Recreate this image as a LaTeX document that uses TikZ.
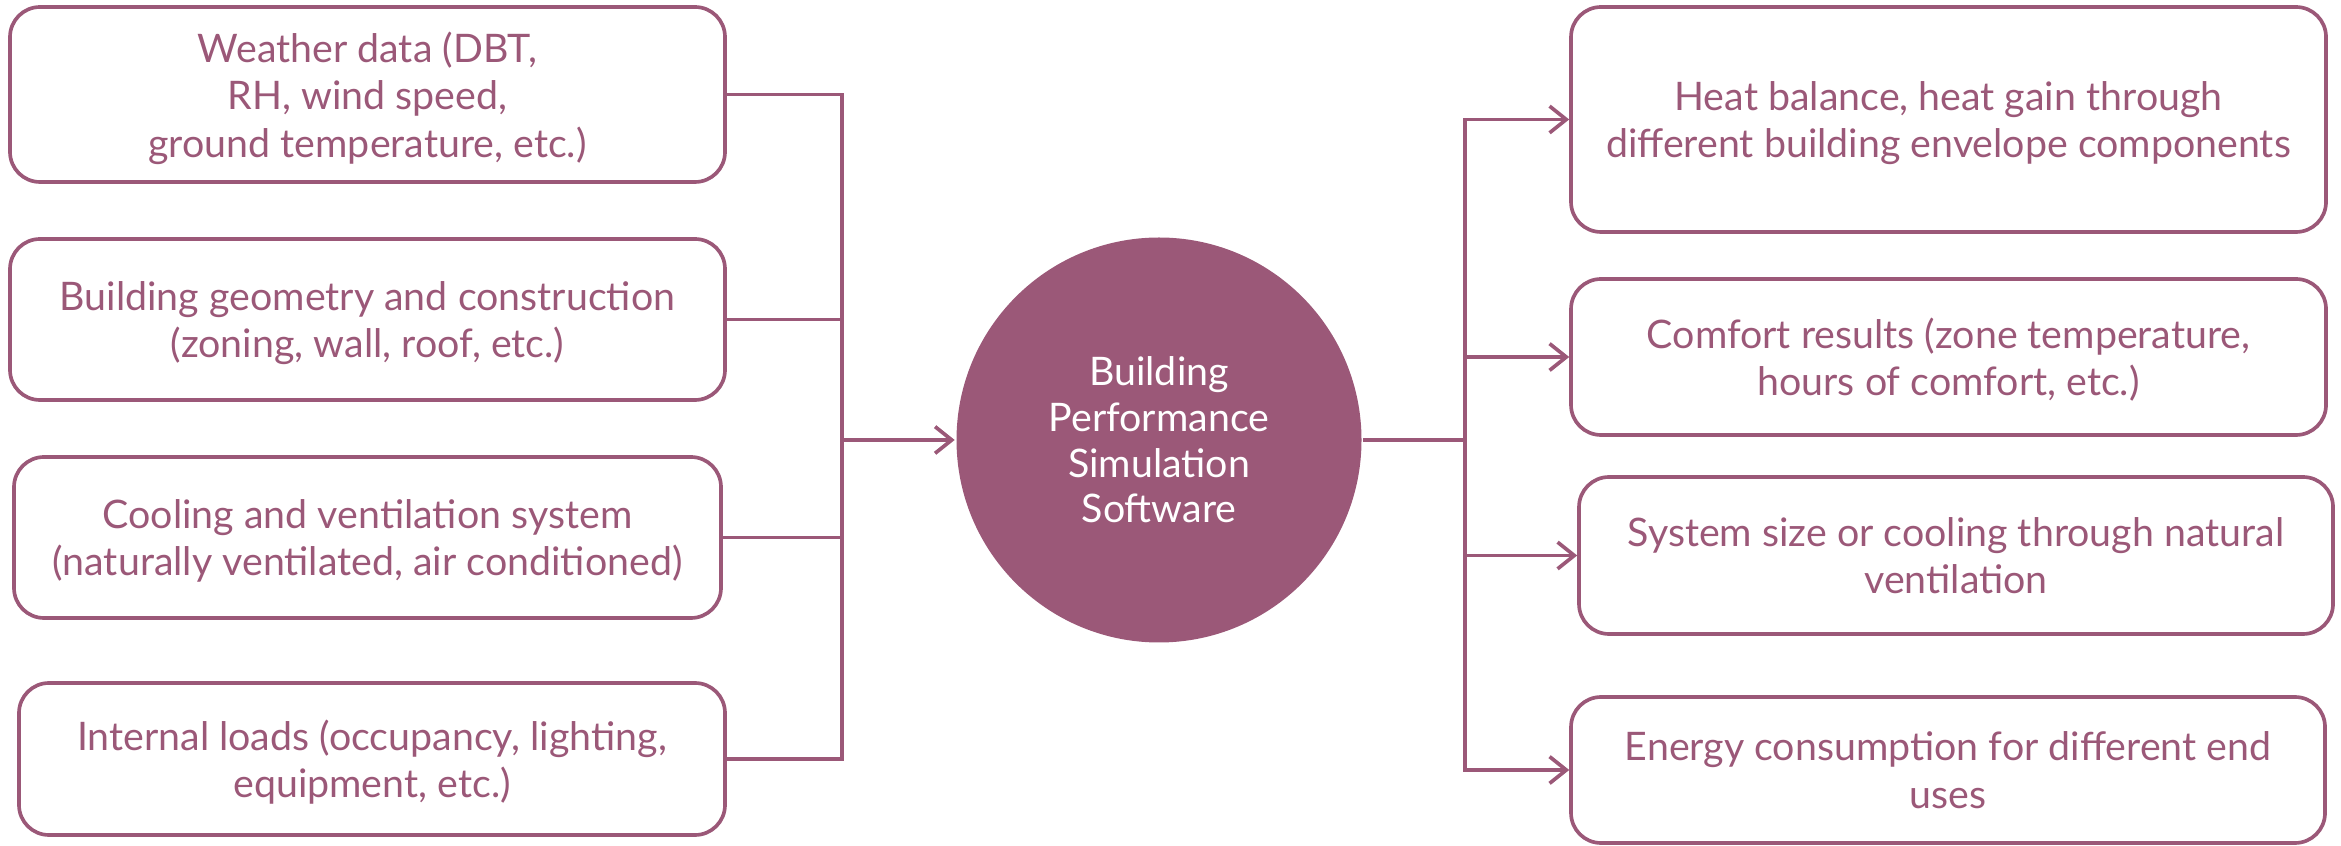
\documentclass[tikz,border=0pt]{standalone}
\usepackage{fontspec}
\setmainfont{Lato}
\usepackage{tikz}
\usetikzlibrary{arrows.meta}
\definecolor{mauve}{RGB}{155,88,120}

\begin{document}
\begin{tikzpicture}[x=0.3pt, y=-0.3pt, line width=1.1pt,
    >={Straight Barb[length=5pt,width=8pt,line width=1.1pt]},
    every node/.style={font=\fontsize{11.8}{14.2}\selectfont, align=center, text depth=-2pt},
    inbox/.style={draw=mauve, text=mauve, rounded corners=9pt, inner sep=2pt},
    outbox/.style={draw=mauve, text=mauve, rounded corners=9pt, inner sep=2pt}]
    \useasboundingbox (0,0) rectangle (2341,846);

    % inputs
    \node[inbox, minimum width=214.5pt, minimum height=52.5pt] (weather) at (367.5,94.5)
      {Weather data (DBT,\\RH, wind speed,\\ground temperature, etc.)};
    \node[inbox, minimum width=214.5pt, minimum height=48.3pt] (geom) at (367.5,319.5)
      {Building geometry and construction\\(zoning, wall, roof, etc.)};
    \node[inbox, minimum width=212.1pt, minimum height=48.3pt] (hvac) at (367.5,537.5)
      {Cooling and ventilation system\\(naturally ventilated, air conditioned)};
    \node[inbox, minimum width=211.8pt, minimum height=45.6pt] (loads) at (372,759)
      {Internal loads (occupancy, lighting,\\equipment, etc.)};

    % simulation engine
    \node[circle, fill=mauve, text=white, minimum size=121.5pt, inner sep=0pt,
      font=\fontsize{11.8}{13.7}\selectfont] (bps) at (1159,440)
      {Building\\Performance\\Simulation\\Software};

    % outputs
    \node[outbox, minimum width=226.5pt, minimum height=67.5pt] (heat) at (1948.5,119.5)
      {Heat balance, heat gain through\\different building envelope components};
    \node[outbox, minimum width=226.5pt, minimum height=46.8pt] (comfort) at (1948.5,357)
      {Comfort results (zone temperature,\\hours of comfort, etc.)};
    \node[outbox, minimum width=226.2pt, minimum height=47.1pt] (size) at (1956,555.5)
      {System size or cooling through natural\\ventilation};
    \node[outbox, minimum width=226.2pt, minimum height=43.8pt] (energy) at (1948,770)
      {Energy consumption for different end\\uses};

    \coordinate (injoin) at (842,440);
    \coordinate (outjoin) at (1465,440);

    \draw[mauve] (weather.east) -| (injoin) |- (loads.east);
    \draw[mauve] (geom.east) -- (geom.east -| injoin);
    \draw[mauve] (hvac.east) -- (hvac.east -| injoin);
    \draw[mauve,->] (injoin) -- (bps);

    \draw[mauve] (bps) -- (outjoin);
    \draw[mauve,->] (outjoin) |- (heat.west);
    \draw[mauve,->] (outjoin) |- (comfort.west);
    \draw[mauve,->] (outjoin) |- (size.west);
    \draw[mauve,->] (outjoin) |- (energy.west);
  \end{tikzpicture}
\end{document}
